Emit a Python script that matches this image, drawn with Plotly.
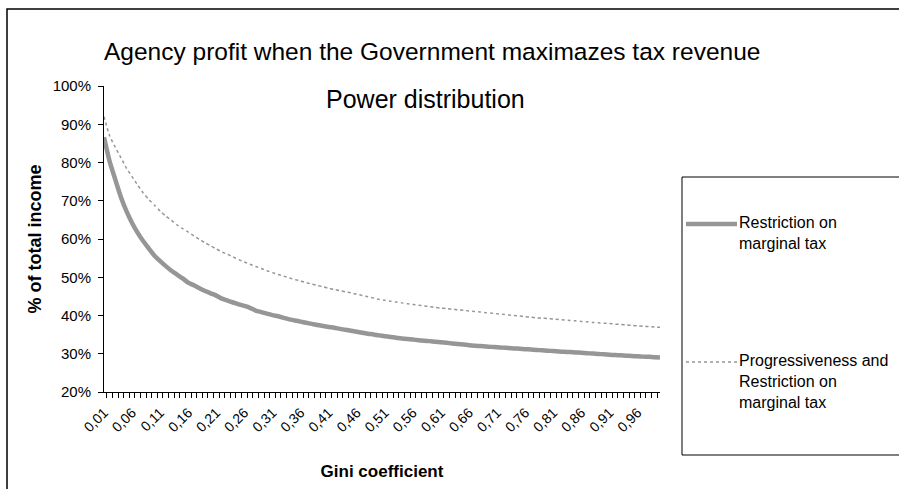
import plotly.graph_objects as go

# Gini coefficient categories 0,01 ... 1,00
gini = ["%d,%02d" % divmod(i, 100) for i in range(1, 101)]
gini_labels = [g if (i % 5 == 0) else "" for i, g in enumerate(gini)]

# Agency profit, % of total income
restriction = [
    86.6, 80.3, 75.6, 71.0, 67.3, 64.2, 61.6, 59.4, 57.5, 55.6,
    54.2, 52.9, 51.7, 50.7, 49.7, 48.6, 47.9, 47.1, 46.4, 45.8,
    45.2, 44.4, 43.9, 43.4, 42.9, 42.5, 42.0, 41.3, 40.9, 40.5,
    40.1, 39.8, 39.4, 39.0, 38.7, 38.4, 38.1, 37.8, 37.5, 37.25,
    37.0, 36.8, 36.5, 36.25, 36.0, 35.75, 35.5, 35.25, 35.05, 34.8,
    34.6, 34.4, 34.2, 34.0, 33.85, 33.7, 33.55, 33.4, 33.3, 33.15,
    33.0, 32.85, 32.7, 32.55, 32.4, 32.25, 32.1, 32.0, 31.9, 31.8,
    31.7, 31.6, 31.5, 31.4, 31.3, 31.2, 31.1, 31.0, 30.9, 30.8,
    30.7, 30.6, 30.5, 30.45, 30.35, 30.25, 30.15, 30.05, 29.95, 29.85,
    29.75, 29.65, 29.6, 29.5, 29.4, 29.35, 29.25, 29.2, 29.1, 29.0,
]
progressive = [
    92.0, 87.0, 84.0, 81.3, 78.5, 76.3, 74.1, 72.0, 70.3, 68.8,
    67.3, 66.0, 64.9, 63.7, 62.7, 61.8, 60.8, 59.9, 59.0, 58.2,
    57.4, 56.6, 56.0, 55.3, 54.6, 54.0, 53.4, 52.8, 52.3, 51.7,
    51.2, 50.7, 50.3, 49.8, 49.4, 49.0, 48.6, 48.2, 47.85, 47.5,
    47.1, 46.8, 46.5, 46.2, 45.9, 45.6, 45.2, 44.9, 44.55, 44.2,
    44.0, 43.75, 43.5, 43.3, 43.1, 42.9, 42.7, 42.5, 42.3, 42.1,
    41.95, 41.8, 41.65, 41.5, 41.35, 41.2, 41.05, 40.9, 40.75, 40.6,
    40.45, 40.3, 40.15, 40.0, 39.85, 39.7, 39.55, 39.4, 39.3, 39.2,
    39.05, 38.95, 38.8, 38.7, 38.6, 38.45, 38.35, 38.2, 38.1, 38.0,
    37.9, 37.75, 37.65, 37.55, 37.4, 37.3, 37.2, 37.1, 37.0, 36.9,
]

FONT = "Liberation Sans, Arial, sans-serif"
GREY = "#969696"

# plot area in pixels: x 104..660, y 86..392
L, R, T, B = 104, 239, 86, 97
PW, PH = 899 - L - R, 489 - T - B


def px(x):
    return (x - L) / PW


def py(y):
    return (489 - B - y) / PH


fig = go.Figure()
fig.add_trace(go.Scatter(
    x=gini, y=restriction, mode="lines", name="Restriction on marginal tax",
    line=dict(color=GREY, width=4.5, shape="spline", smoothing=0.6), showlegend=False,
))
fig.add_trace(go.Scatter(
    x=gini, y=progressive, mode="lines",
    name="Progressiveness and Restriction on marginal tax",
    line=dict(color=GREY, width=1.5, dash="3px,3px", shape="spline", smoothing=0.6),
    showlegend=False,
))

shapes = [
    # outer chart border
    dict(type="rect", xref="paper", yref="paper", x0=px(7), x1=px(960),
         y0=py(560), y1=py(9), line=dict(color="black", width=1.5)),
    # legend box
    dict(type="rect", xref="paper", yref="paper", x0=px(682), x1=px(960),
         y0=py(455), y1=py(177), line=dict(color="black", width=1)),
    # legend samples
    dict(type="line", xref="paper", yref="paper", x0=px(686), x1=px(737),
         y0=py(224), y1=py(224), line=dict(color=GREY, width=4.5)),
    dict(type="line", xref="paper", yref="paper", x0=px(686), x1=px(737),
         y0=py(362), y1=py(362), line=dict(color=GREY, width=1.5, dash="3px,3px")),
]

annotations = [
    dict(text="Agency profit when the Government maximazes tax revenue",
         xref="paper", yref="paper", x=px(102), y=py(52), xanchor="left",
         yanchor="middle", showarrow=False, font=dict(family=FONT, size=24.5, color="black")),
    dict(text="Power distribution", xref="paper", yref="paper", x=px(425), y=py(99),
         xanchor="center", yanchor="middle", showarrow=False,
         font=dict(family=FONT, size=25, color="black")),
    dict(text="Restriction on<br>marginal tax", xref="paper", yref="paper",
         x=px(737), y=py(224), xanchor="left", yanchor="top", yshift=12, align="left",
         showarrow=False, font=dict(family=FONT, size=16, color="black")),
    dict(text="Progressiveness and<br>Restriction on<br>marginal tax", xref="paper",
         yref="paper", x=px(737), y=py(362), xanchor="left", yanchor="top", yshift=12,
         align="left", showarrow=False, font=dict(family=FONT, size=16, color="black")),
]

fig.update_layout(
    width=899, height=489,
    margin=dict(l=L, r=R, t=T, b=B, autoexpand=False),
    paper_bgcolor="white", plot_bgcolor="white",
    font=dict(family=FONT, size=15, color="black"),
    shapes=shapes, annotations=annotations,
    xaxis=dict(
        type="category", tickmode="array", tickvals=gini, ticktext=gini_labels,
        tickson="boundaries", ticks="outside", ticklen=5, tickcolor="black",
        tickangle=-45, tickfont=dict(size=14), ticklabelstandoff=6, showgrid=False,
        showline=True, linecolor="black", linewidth=1, zeroline=False,
        title=dict(text="<b>Gini coefficient</b>", font=dict(size=17), standoff=30),
        automargin=False,
    ),
    yaxis=dict(
        range=[20, 100], dtick=10, ticksuffix="%", ticks="outside", ticklen=5,
        tickcolor="black", tickfont=dict(size=15), ticklabelstandoff=4, showgrid=False,
        showline=True, linecolor="black", linewidth=1, zeroline=False,
        title=dict(text="<b>% of total income</b>", font=dict(size=18), standoff=6),
        automargin=False,
    ),
)

# drop the browser's default page margin so the figure sits at the window corner
fig.write_html("out.html", config=dict(displayModeBar=False),
               post_script="document.body.style.margin = '0';")
